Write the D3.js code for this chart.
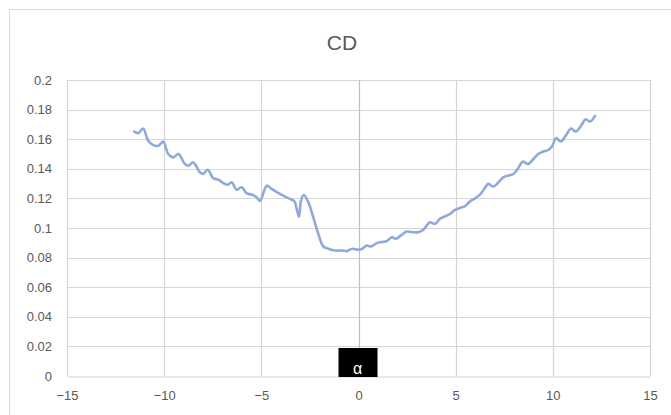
<!DOCTYPE html>
<html>
<head>
<meta charset="utf-8">
<script src="https://cdn.jsdelivr.net/npm/d3@7/dist/d3.min.js"></script>
<style>
  html, body { margin: 0; padding: 0; background: #ffffff; }
  svg { display: block; }
  text { font-family: "Liberation Sans", "DejaVu Sans", sans-serif; }
</style>
</head>
<body>
<svg id="chart" width="671" height="415"></svg>
<script>
// Drag coefficient versus angle of attack
const alpha = [
  -11.54, -11.33, -11.08, -10.82, -10.56, -10.30, -10.05, -9.79, -9.53, -9.27,
  -8.93, -8.76, -8.50, -8.16, -7.99, -7.76, -7.47, -7.22, -6.87, -6.70,
  -6.53, -6.27, -6.01, -5.75, -5.50, -5.24, -5.07, -4.72, -4.47, -4.13,
  -3.78, -3.53, -3.30, -3.18, -3.06, -2.96, -2.82, -2.58, -2.33, -2.07,
  -1.81, -1.55, -1.21, -0.86, -0.61, -0.32, -0.01, 0.20, 0.42, 0.64,
  0.94, 1.19, 1.45, 1.71, 1.91, 2.19, 2.48, 2.74, 3.08, 3.34,
  3.51, 3.68, 3.94, 4.19, 4.45, 4.71, 4.97, 5.22, 5.48, 5.74,
  6.00, 6.25, 6.47, 6.68, 6.94, 7.20, 7.45, 7.71, 7.97, 8.19,
  8.45, 8.71, 9.00, 9.25, 9.51, 9.77, 9.98, 10.16, 10.42, 10.66,
  10.94, 11.18, 11.45, 11.69, 11.92, 12.17
];
const cd = [
  0.1652, 0.1641, 0.1672, 0.1589, 0.1560, 0.1556, 0.1582, 0.1500, 0.1477, 0.1500,
  0.1432, 0.1421, 0.1443, 0.1376, 0.1365, 0.1394, 0.1336, 0.1327, 0.1297, 0.1293,
  0.1309, 0.1259, 0.1275, 0.1234, 0.1226, 0.1208, 0.1182, 0.1286, 0.1264, 0.1237,
  0.1212, 0.1197, 0.1180, 0.1129, 0.1077, 0.1185, 0.1223, 0.1174, 0.1073, 0.0961,
  0.0875, 0.0860, 0.0848, 0.0848, 0.0844, 0.0860, 0.0853, 0.0860, 0.0882, 0.0875,
  0.0898, 0.0905, 0.0911, 0.0938, 0.0927, 0.0950, 0.0976, 0.0972, 0.0972, 0.0988,
  0.1017, 0.1039, 0.1028, 0.1062, 0.1079, 0.1095, 0.1122, 0.1136, 0.1147, 0.1180,
  0.1200, 0.1225, 0.1264, 0.1298, 0.1280, 0.1309, 0.1342, 0.1354, 0.1365, 0.1398,
  0.1448, 0.1432, 0.1466, 0.1500, 0.1517, 0.1527, 0.1556, 0.1607, 0.1585, 0.1623,
  0.1672, 0.1652, 0.1690, 0.1735, 0.1719, 0.1758
];
const xTicks = [-15, -10, -5, 0, 5, 10, 15];
const yTicks = [0, 0.02, 0.04, 0.06, 0.08, 0.1, 0.12, 0.14, 0.16, 0.18, 0.2];
const chartTitle = "CD";
const axisTitle = "α";

const svg = d3.select("#chart");
const margin = { left: 67, right: 21, top: 80, bottom: 39 };
const W = 671, H = 415;

const x = d3.scaleLinear().domain([-15, 15]).range([margin.left, W - margin.right]);
const y = d3.scaleLinear().domain([0, 0.2]).range([H - margin.bottom, margin.top]);

// chart area frame
svg.append("rect")
  .attr("x", 9.5).attr("y", 9.5)
  .attr("width", 700).attr("height", 500)
  .attr("fill", "#ffffff")
  .attr("stroke", "#d9d9d9").attr("stroke-width", 1);

// title
svg.append("text")
  .attr("x", 342).attr("y", 50)
  .attr("text-anchor", "middle")
  .attr("font-size", 21)
  .attr("fill", "#595959")
  .text(chartTitle);

// horizontal gridlines
svg.append("g")
  .selectAll("line")
  .data(yTicks.filter(d => d > 0))
  .join("line")
  .attr("x1", x(-15)).attr("x2", x(15))
  .attr("y1", d => Math.round(y(d)) + 0.5).attr("y2", d => Math.round(y(d)) + 0.5)
  .attr("stroke", "#d6d6d6").attr("stroke-width", 1.2);

// vertical gridlines
svg.append("g")
  .selectAll("line")
  .data(xTicks.filter(d => d !== 0))
  .join("line")
  .attr("x1", d => Math.round(x(d)) + 0.5).attr("x2", d => Math.round(x(d)) + 0.5)
  .attr("y1", y(0.2)).attr("y2", y(0))
  .attr("stroke", "#d6d6d6").attr("stroke-width", 1.2);

// vertical axis crossing at alpha = 0
svg.append("line")
  .attr("x1", Math.round(x(0)) + 0.5).attr("x2", Math.round(x(0)) + 0.5)
  .attr("y1", y(0.2)).attr("y2", y(0))
  .attr("stroke", "#bfbfbf").attr("stroke-width", 1.2);

// horizontal axis
const xAxis = d3.axisBottom(x).tickValues(xTicks).tickSize(0).tickPadding(14)
  .tickFormat(d3.format("d"));
const gx = svg.append("g")
  .attr("transform", `translate(0,${Math.round(y(0)) + 0.5})`)
  .call(xAxis);
gx.select(".domain").attr("stroke", "#d0d0d0").attr("stroke-width", 1.2);
gx.selectAll("text").attr("font-size", 13).attr("fill", "#595959")
  .attr("font-family", "Liberation Sans, sans-serif");

// vertical axis labels on the left
const yAxis = d3.axisLeft(y).tickValues(yTicks).tickSize(0).tickPadding(15)
  .tickFormat(d => d === 0 ? "0" : String(+d.toFixed(2)));
const gy = svg.append("g")
  .attr("transform", `translate(${x(-15)},0)`)
  .call(yAxis);
gy.select(".domain").remove();
gy.selectAll("text").attr("font-size", 13).attr("fill", "#595959")
  .attr("font-family", "Liberation Sans, sans-serif");

// data line
const pts = alpha.map((a, i) => [a, cd[i]]);
const line = d3.line()
  .x(d => x(d[0]))
  .y(d => y(d[1]))
  .curve(d3.curveCatmullRom.alpha(0.5));
svg.append("path")
  .datum(pts)
  .attr("d", line)
  .attr("fill", "none")
  .attr("stroke", "#8eaadc")
  .attr("stroke-width", 2.6)
  .attr("stroke-linejoin", "round")
  .attr("stroke-linecap", "round");

// axis title box
const boxW = 39, boxH = 29;
svg.append("rect")
  .attr("x", x(0) - 20).attr("y", y(0) - boxH + 1)
  .attr("width", boxW).attr("height", boxH)
  .attr("fill", "#000000");
svg.append("text")
  .attr("x", x(0) - 1).attr("y", y(0) - 2)
  .attr("text-anchor", "middle")
  .attr("font-size", 16)
  .attr("fill", "#ffffff")
  .text(axisTitle);
</script>
</body>
</html>
